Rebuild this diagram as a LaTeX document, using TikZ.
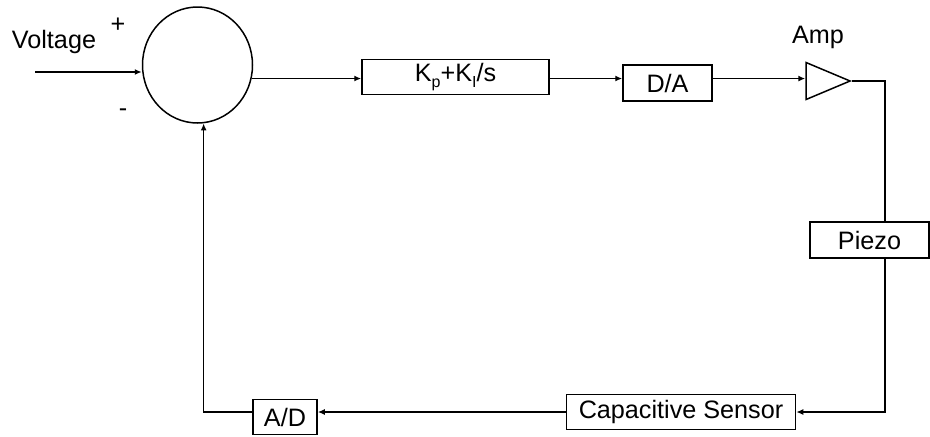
\documentclass[tikz,border=0pt]{standalone}
\usepackage{fontspec}
\setmainfont{Liberation Sans}
\usetikzlibrary{arrows.meta,shapes.geometric}
\newcommand{\indice}[1]{\raisebox{-0.45ex}{\fontsize{8}{9}\selectfont #1}}
\begin{document}
\begin{tikzpicture}[x=0.5pt,y=-0.5pt,line width=0.75pt,font=\fontsize{12.6}{15}\selectfont,
  bloco/.style={draw,inner sep=0pt},
  seta/.style={-{Latex[length=3.5pt,width=3pt]}}]
\useasboundingbox (0,0) rectangle (930,436);
% somador e entrada
\node (volt) at (54,42) {Voltage};
\node (mais) at (118,25) {+};
\node (menos) at (123,113) {-};
\node[draw,ellipse,minimum width=55pt,minimum height=58pt,inner sep=0pt] (soma) at (197.5,65) {};
\coordinate (vin) at (35,72);
\draw[seta] (vin) -- (vin -| soma.west);
% ramo direto
\node[bloco,minimum width=93.5pt,minimum height=17.5pt] (pi) at (455.5,77) {K\indice{p}+K\indice{I}/s};
\node[bloco,minimum width=44.5pt,minimum height=18pt] (da) at (667.5,83) {D/A};
\node[draw,isosceles triangle,isosceles triangle stretches,inner sep=0pt,
  minimum width=18.5pt,minimum height=22pt,anchor=apex] (amp) at (852,81) {};
\node (amplbl) at (818,37) {Amp};
\draw[seta] (soma.-14) -- (soma.-14 -| pi.west);
\draw[seta] (soma.-14 -| pi.east) -- (soma.-14 -| da.west);
\draw[seta] (soma.-14 -| da.east) -- (soma.-14 -| amp.west);
% piezo e sensor
\node[bloco,minimum width=59.5pt,minimum height=18pt] (piezo) at (869.5,240) {Piezo};
\node[bloco,minimum width=114.5pt,minimum height=17.5pt] (cap) at (681,412) {Capacitive Sensor};
\node[bloco,minimum width=32pt,minimum height=17.5pt] (ad) at (285,417) {A/D};
\coordinate (canto) at (885,81);
\draw (amp.apex) -- (canto) -- (canto |- piezo.north);
\draw[seta] (canto |- piezo.south) |- (cap.east);
\draw[seta] (cap.west) -- (cap.west -| ad.east);
\draw[seta] (cap.west -| ad.west) -| (soma.-84);
\end{tikzpicture}
\end{document}
